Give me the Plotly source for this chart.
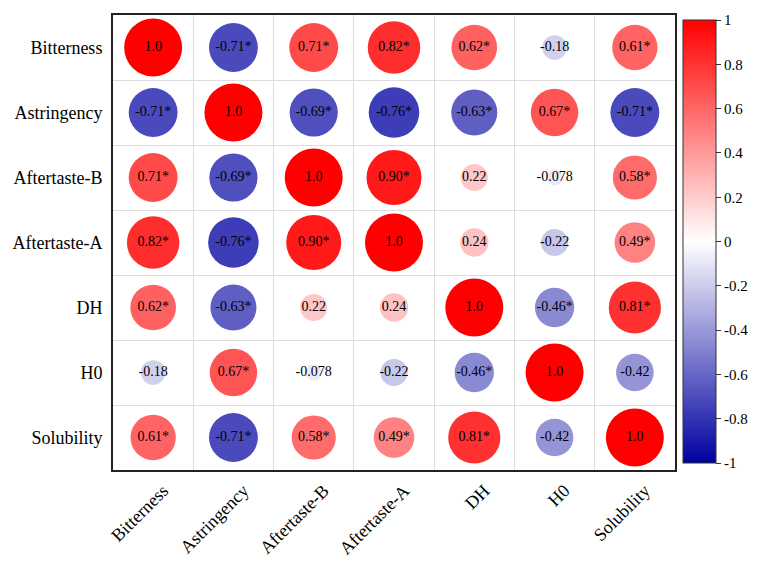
import plotly.graph_objects as go
import numpy as np

variables = ["Bitterness", "Astringency", "Aftertaste-B", "Aftertaste-A", "DH", "H0", "Solubility"]

corr = [
    [1.0, -0.71, 0.71, 0.82, 0.62, -0.18, 0.61],
    [-0.71, 1.0, -0.69, -0.76, -0.63, 0.67, -0.71],
    [0.71, -0.69, 1.0, 0.90, 0.22, -0.078, 0.58],
    [0.82, -0.76, 0.90, 1.0, 0.24, -0.22, 0.49],
    [0.62, -0.63, 0.22, 0.24, 1.0, -0.46, 0.81],
    [-0.18, 0.67, -0.078, -0.22, -0.46, 1.0, -0.42],
    [0.61, -0.71, 0.58, 0.49, 0.81, -0.42, 1.0],
]

labels = [
    ["1.0", "-0.71*", "0.71*", "0.82*", "0.62*", "-0.18", "0.61*"],
    ["-0.71*", "1.0", "-0.69*", "-0.76*", "-0.63*", "0.67*", "-0.71*"],
    ["0.71*", "-0.69*", "1.0", "0.90*", "0.22", "-0.078", "0.58*"],
    ["0.82*", "-0.76*", "0.90*", "1.0", "0.24", "-0.22", "0.49*"],
    ["0.62*", "-0.63*", "0.22", "0.24", "1.0", "-0.46*", "0.81*"],
    ["-0.18", "0.67*", "-0.078", "-0.22", "-0.46*", "1.0", "-0.42"],
    ["0.61*", "-0.71*", "0.58*", "0.49*", "0.81*", "-0.42", "1.0"],
]

cbar_ticks = [-1, -0.8, -0.6, -0.4, -0.2, 0, 0.2, 0.4, 0.6, 0.8, 1]

n = len(variables)
xs, ys, vals, txts = [], [], [], []
for i in range(n):
    for j in range(n):
        xs.append(j)
        ys.append(i)
        vals.append(corr[i][j])
        txts.append(labels[i][j])
vals = np.array(vals)
sizes = 58 * np.sqrt(np.abs(vals))

colorscale = [[0.0, "#0000A0"], [0.5, "#FFFFFF"], [1.0, "#FF0000"]]
font_family = "Liberation Serif, Times New Roman, serif"

fig = go.Figure()
fig.add_trace(go.Scatter(
    x=xs, y=ys, mode="markers+text",
    text=txts, textposition="middle center",
    textfont=dict(family=font_family, size=14, color="black"),
    marker=dict(
        size=sizes, sizemode="diameter", color=vals,
        colorscale=colorscale, cmin=-1, cmax=1,
        line=dict(width=0), opacity=1,
        colorbar=dict(
            x=1.014, xanchor="left", y=0.502, yanchor="middle",
            len=0.974, lenmode="fraction", thickness=33,
            xpad=0, ypad=0,
            outlinewidth=1, outlinecolor="#333",
            tickvals=cbar_ticks, ticktext=[f"{t:g}" for t in cbar_ticks],
            ticks="outside", ticklen=5, tickcolor="#333",
            tickfont=dict(family=font_family, size=15, color="black"),
        ),
    ),
    hoverinfo="skip", showlegend=False,
))

fig.update_xaxes(
    range=[-0.5, n - 0.5], tickvals=list(range(n)), ticktext=variables,
    tickangle=-45, showgrid=False, zeroline=False,
    showline=True, mirror=True, linewidth=2, linecolor="#222",
    minor=dict(tick0=0.5, dtick=1, showgrid=True, gridcolor="#DDDDDD", gridwidth=1),
    tickfont=dict(family=font_family, size=18, color="black"),
    ticklabelstandoff=1, ticklabelshift=10,
)
fig.update_yaxes(
    range=[n - 0.5, -0.5], tickvals=list(range(n)), ticktext=variables,
    showgrid=False, zeroline=False,
    showline=True, mirror=True, linewidth=2, linecolor="#222",
    minor=dict(tick0=0.5, dtick=1, showgrid=True, gridcolor="#DDDDDD", gridwidth=1),
    tickfont=dict(family=font_family, size=18, color="black"),
    ticklabelstandoff=5,
)

fig.update_layout(
    width=751, height=560,
    margin=dict(l=105, r=84, t=7, b=98, autoexpand=False),
    plot_bgcolor="white", paper_bgcolor="white",
)

fig.write_html("out.html")
